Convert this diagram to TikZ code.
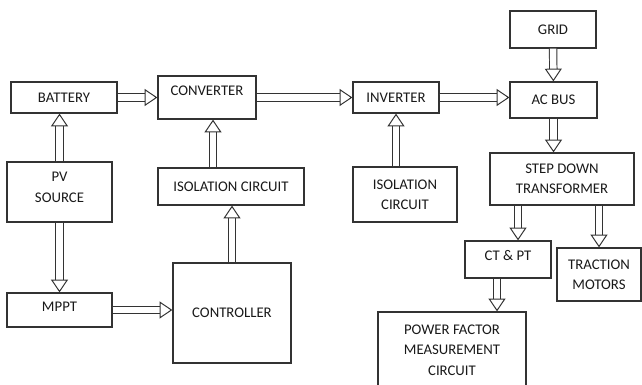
\documentclass[tikz,border=0pt]{standalone}
\usepackage{fontspec}
\setmainfont{Carlito}
\usetikzlibrary{arrows.meta}

\begin{document}
\begin{tikzpicture}[
        x=0.025cm, y=-0.025cm,
        bloque/.style={rectangle, draw=black!80, line width=0.9pt, align=center, text=black!90, font=\fontsize{10.5}{14.5}\selectfont, inner sep=2pt},
        flecha/.style={draw=black!80, line width=0.7pt, double=white, double distance=4.6pt, -{Triangle[open, fill=white, width=12pt, length=9pt, line width=0.7pt]}}
    ]
        \useasboundingbox (0,0) rectangle (642,385);

        \node[bloque, minimum width=2.65cm, minimum height=0.775cm] (battery) at (64,97.5) {BATTERY};
        \node[bloque, minimum width=2.45cm, minimum height=1.075cm, text depth=9.2pt] (converter) at (207,97.5) {CONVERTER};
        \node[bloque, minimum width=2.625cm, minimum height=1.5cm, text depth=7pt] (pv) at (59.5,192) {PV\\SOURCE};
        \node[bloque, minimum width=3.65cm, minimum height=0.925cm] (isoL) at (231,186.5) {ISOLATION CIRCUIT};
        \node[bloque, minimum width=2.625cm, minimum height=0.85cm, text depth=4.3pt] (mppt) at (59.5,310) {MPPT};
        \node[bloque, minimum width=2.95cm, minimum height=2.5cm] (controller) at (232,313) {CONTROLLER};
        \node[bloque, minimum width=2.15cm, minimum height=0.775cm] (inverter) at (396,97.5) {INVERTER};
        \node[bloque, minimum width=2.15cm, minimum height=0.925cm] (grid) at (553,29.5) {GRID};
        \node[bloque, minimum width=2.175cm, minimum height=0.9cm] (acbus) at (553.5,100) {AC BUS};
        \node[bloque, minimum width=3.6cm, minimum height=1.3cm] (stepdown) at (562,179) {STEP DOWN\\TRANSFORMER};
        \node[bloque, minimum width=2.6cm, minimum height=1.375cm] (isoR) at (405,194.5) {ISOLATION\\CIRCUIT};
        \node[bloque, minimum width=2.15cm, minimum height=0.925cm, text depth=6.4pt] (ctpt) at (508,259.5) {CT \& PT};
        \node[bloque, minimum width=2.1cm, minimum height=1.325cm] (traction) at (599,274.5) {TRACTION\\MOTORS};
        \node[bloque, minimum width=3.7cm, minimum height=1.9cm] (pf) at (452,350) {POWER FACTOR\\MEASUREMENT\\CIRCUIT};

        \draw[flecha] (pv.north) -- (pv.north |- battery.south);
        \draw[flecha] (pv.south) -- (mppt.north);
        \draw[flecha] (battery) -- (converter);
        \draw[flecha] (converter) -- (inverter);
        \draw[flecha] (inverter.east) -- (inverter.east -| acbus.west);
        \draw[flecha] (grid) -- (acbus);
        \draw[flecha] (acbus.south) -- (acbus.south |- stepdown.north);
        \draw[flecha] ([xshift=0.25cm]ctpt.north |- stepdown.south) -- ([xshift=0.25cm]ctpt.north);
        \draw[flecha] (traction.north |- stepdown.south) -- (traction.north);
        \draw[flecha] ([xshift=-0.275cm]ctpt.south) -- ([xshift=-0.275cm]ctpt.south |- pf.north);
        \draw[flecha] (inverter.south |- isoR.north) -- (inverter.south);
        \draw[flecha] ([xshift=0.15cm]converter.south |- isoL.north) -- ([xshift=0.15cm]converter.south);
        \draw[flecha] (controller.north) -- (controller.north |- isoL.south);
        \draw[flecha] (mppt) -- (mppt -| controller.west);
    \end{tikzpicture}
\end{document}
